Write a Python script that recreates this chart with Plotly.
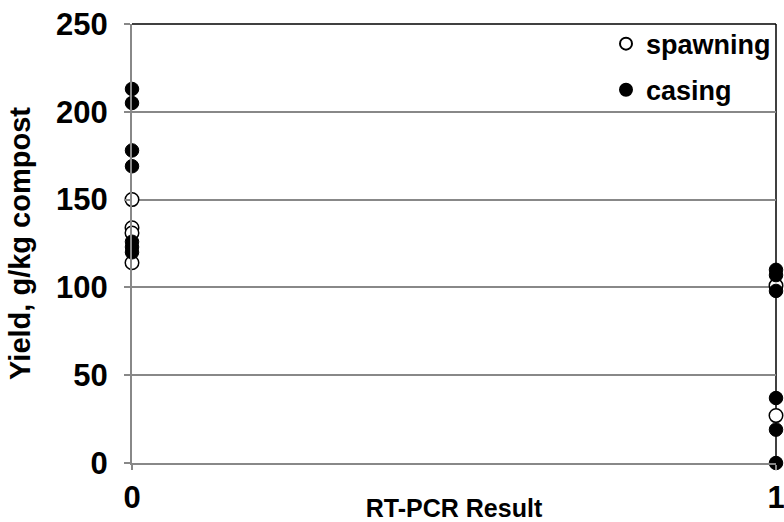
import plotly.graph_objects as go

# Data
spawn_x = [0, 0, 0, 0, 1, 1]
spawn_y = [150, 134, 131, 114, 101, 27]

casing_x = [0, 0, 0, 0, 0, 0, 0, 1, 1, 1, 1, 1, 1]
casing_y = [213, 205, 178, 169, 126, 123, 120, 110, 107, 98, 37, 19, 0]

x_ticks = [0, 1]
x_labels = ["0", "1"]
y_ticks = [0, 50, 100, 150, 200, 250]

FONT = "Liberation Sans"
GRID = "#888888"

fig = go.Figure()
fig.add_trace(go.Scatter(
    x=spawn_x, y=spawn_y, mode="markers", name="spawning", legendgroup="a",
    marker=dict(symbol="circle", size=13.5, color="white",
                line=dict(color="black", width=1.5)),
    cliponaxis=False,
))
fig.add_trace(go.Scatter(
    x=casing_x, y=casing_y, mode="markers", name="casing", legendgroup="b",
    marker=dict(symbol="circle", size=13.5, color="black",
                line=dict(color="black", width=1)),
    cliponaxis=False,
))

fig.update_layout(
    width=784, height=522,
    margin=dict(l=132, r=8, t=24, b=59, autoexpand=False),
    paper_bgcolor="white", plot_bgcolor="white",
    font=dict(family=FONT, color="black"),
    showlegend=True,
    legend=dict(x=1.0, xanchor="right", y=1.01, yanchor="top",
                bgcolor="rgba(0,0,0,0)", tracegroupgap=8,
                font=dict(family=FONT, size=27, color="black", weight="bold"),
                itemsizing="constant"),
    xaxis=dict(range=[0, 1], tickvals=x_ticks, ticktext=x_labels,
               showgrid=False, zeroline=False, automargin=False,
               ticklabeloverflow="allow",
               showline=True, linecolor=GRID, linewidth=2,
               ticks="outside", ticklen=5, tickcolor=GRID, tickwidth=1.5,
               ticklabelstandoff=1,
               tickfont=dict(family=FONT, size=31, weight="bold"),
               title=dict(text="RT-PCR Result", standoff=6,
                          font=dict(family=FONT, size=25, weight="bold"))),
    yaxis=dict(range=[0, 250], tickvals=y_ticks,
               showgrid=True, gridcolor=GRID, gridwidth=1.5, zeroline=False,
               automargin=False, ticklabeloverflow="allow",
               showline=True, linecolor=GRID, linewidth=2,
               ticks="outside", ticklen=6, tickcolor=GRID, tickwidth=1.5,
               ticklabelstandoff=10,
               tickfont=dict(family=FONT, size=31, weight="bold"),
               title=dict(text="Yield, g/kg compost", standoff=17,
                          font=dict(family=FONT, size=29, weight="bold"))),
    shapes=[
        dict(type="line", xref="paper", yref="paper", x0=0, x1=1, y0=1, y1=1,
             line=dict(color="black", width=1.5), layer="above"),
        dict(type="line", xref="paper", yref="paper", x0=1, x1=1, y0=0, y1=1,
             line=dict(color="black", width=1.5), layer="below"),
    ],
)

fig.write_html(
    "out.html",
    config={"displayModeBar": False},
    post_script="document.body.style.margin='0';document.body.style.overflow='hidden';",
)
